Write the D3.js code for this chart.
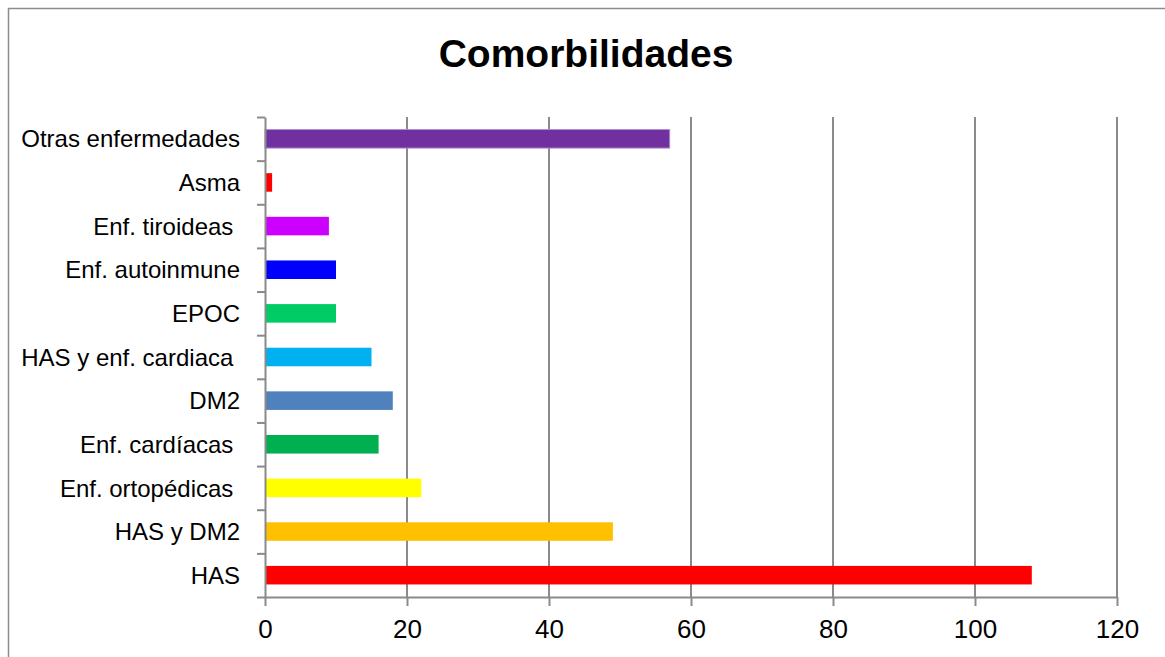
<!DOCTYPE html>
<html>
<head>
<meta charset="utf-8">
<script src="https://cdn.jsdelivr.net/npm/d3@7"></script>
<style>
  html, body { margin: 0; padding: 0; background: #fff; }
  svg { display: block; }
  text { white-space: pre; }
</style>
</head>
<body>
<svg id="chart" width="1165" height="657"></svg>
<script>
// Comorbidities, listed top to bottom
const categories = [
  "Otras enfermedades", "Asma", "Enf. tiroideas ", "Enf. autoinmune", "EPOC",
  "HAS y enf. cardiaca ", "DM2", "Enf. cardíacas ", "Enf. ortopédicas ", "HAS y DM2", "HAS"
];
const values = [57, 1, 9, 10, 10, 15, 18, 16, 22, 49, 108];
const barColors = [
  "#7030A0", "#FF0000", "#CC00FF", "#0000FF", "#00CC66",
  "#00B0F0", "#4F81BD", "#00B050", "#FFFF00", "#FFC000", "#FF0000"
];
const xTicks = [0, 20, 40, 60, 80, 100, 120];
const title = "Comorbilidades";

const svg = d3.select("#chart");
const W = 1165, H = 657;
const plot = { left: 265, right: 1117, top: 117, bottom: 597 };
const gridColor = "#8a8a8a";

// outer chart frame (continues past the bottom/right edges)
svg.append("path")
  .attr("d", `M8.5,${H + 5} V8.5 H${W + 5}`)
  .attr("fill", "none")
  .attr("stroke", "#8c8c8c")
  .attr("stroke-width", 1.5);

// title
svg.append("text")
  .attr("x", 586)
  .attr("y", 67)
  .attr("text-anchor", "middle")
  .attr("font-family", "'Liberation Sans', Arial, sans-serif")
  .attr("font-weight", "bold")
  .attr("font-size", 39)
  .attr("fill", "#000")
  .text(title);

const x = d3.scaleLinear().domain([0, 120]).range([plot.left, plot.right]);
const y = d3.scaleBand()
  .domain(categories)
  .range([plot.top, plot.bottom])
  .paddingInner(0.575)
  .paddingOuter(0.2875);
// band boundaries for the category tick marks
const yEdge = d3.scaleLinear().domain([0, categories.length]).range([plot.top, plot.bottom]);

// vertical gridlines
svg.append("g")
  .selectAll("line")
  .data(xTicks.filter(d => d > 0))
  .join("line")
  .attr("x1", d => x(d)).attr("x2", d => x(d))
  .attr("y1", plot.top).attr("y2", plot.bottom)
  .attr("stroke", gridColor)
  .attr("stroke-width", 2);

// bars
svg.append("g")
  .selectAll("rect")
  .data(categories)
  .join("rect")
  .attr("x", x(0))
  .attr("y", d => y(d))
  .attr("width", (d, i) => x(values[i]) - x(0))
  .attr("height", y.bandwidth())
  .attr("fill", (d, i) => barColors[i])
  .attr("stroke", (d, i) => i === 0 ? "#b08ccf" : "none")
  .attr("stroke-width", 1);

// x axis
const xAxis = svg.append("g")
  .attr("transform", `translate(0,${plot.bottom})`)
  .call(d3.axisBottom(x).tickValues(xTicks).tickSize(9).tickPadding(14).tickSizeOuter(0));
xAxis.select(".domain").attr("stroke", gridColor).attr("stroke-width", 2);
xAxis.selectAll(".tick line").attr("stroke", gridColor).attr("stroke-width", 2);
xAxis.selectAll(".tick text")
  .attr("font-family", "'Liberation Sans Narrow', 'Liberation Sans', sans-serif")
  .attr("font-size", 26)
  .attr("fill", "#000");

// y axis: tick marks at category boundaries
const yAxis = svg.append("g")
  .attr("transform", `translate(${plot.left},0)`)
  .call(d3.axisLeft(yEdge).tickValues(d3.range(categories.length + 1)).tickSize(8).tickFormat("").tickSizeOuter(0));
yAxis.select(".domain").attr("stroke", gridColor).attr("stroke-width", 2);
yAxis.selectAll(".tick line").attr("stroke", gridColor).attr("stroke-width", 2);

// category labels
svg.append("g")
  .selectAll("text")
  .data(categories)
  .join("text")
  .attr("x", 240)
  .attr("y", d => y(d) + y.bandwidth() / 2)
  .attr("dy", "0.36em")
  .attr("text-anchor", "end")
  .attr("font-family", "'Liberation Sans', Arial, sans-serif")
  .attr("font-size", 24)
  .attr("fill", "#000")
  .text(d => d);
</script>
</body>
</html>
